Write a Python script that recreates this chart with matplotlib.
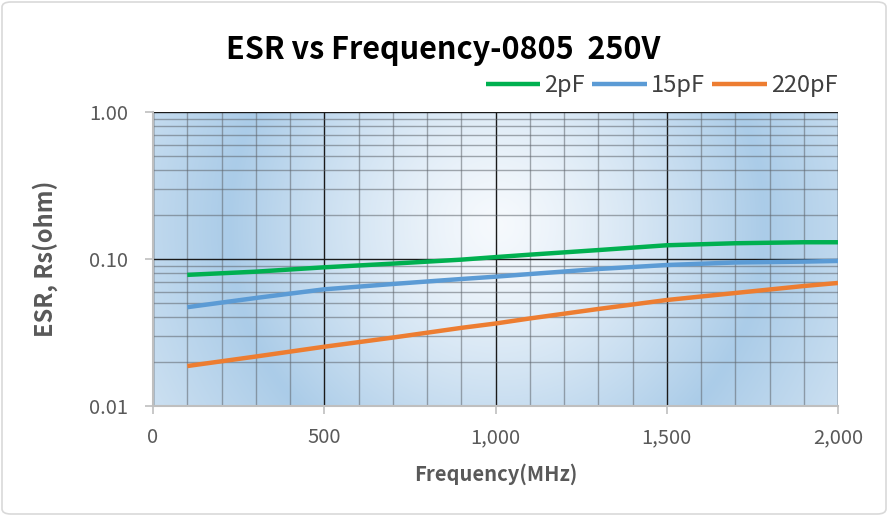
import numpy as np
import matplotlib
matplotlib.use("Agg")
import matplotlib.pyplot as plt
from matplotlib.ticker import FixedLocator, FuncFormatter
from matplotlib.patches import FancyBboxPatch

freq = [100, 300, 500, 700, 900, 1000, 1100, 1300, 1500, 1700, 1900, 2000]
esr_2pF = [0.078, 0.082, 0.0878, 0.093, 0.099, 0.103, 0.107, 0.115, 0.124, 0.128, 0.130, 0.130]
esr_15pF = [0.047, 0.0543, 0.0622, 0.0676, 0.0731, 0.0758, 0.079, 0.0855, 0.091, 0.0947, 0.096, 0.097]
esr_220pF = [0.0187, 0.0217, 0.0253, 0.0292, 0.034, 0.0364, 0.0394, 0.0457, 0.0526, 0.0587, 0.0655, 0.0687]
series_labels = ["2pF", "15pF", "220pF"]
series_colors = ["#00b050", "#5b9bd5", "#ed7d31"]
x_ticks = [0, 500, 1000, 1500, 2000]
y_ticks = [0.01, 0.1, 1.0]
title = "ESR vs Frequency-0805  250V"
xlabel = "Frequency(MHz)"
ylabel = "ESR, Rs(ohm)"

FONT = ["Noto Sans CJK SC", "DejaVu Sans"]
plt.rcParams['font.family'] = FONT

W, H = 888, 516
fig = plt.figure(figsize=(W / 100, H / 100), dpi=100)
L, R, T, B = 153, 838, 112, 406
ax = fig.add_axes([L / W, 1 - B / H, (R - L) / W, (B - T) / H])

ax.set_yscale('log')
ax.set_xlim(0, 2000)
ax.set_ylim(0.01, 1.0)

# background gradient (radial with ring)
pw, ph = R - L, B - T
xx, yy = np.meshgrid(np.arange(pw) + 0.5, np.arange(ph) + 0.5)
cx, cy = 497 - L, 225 - T
r = np.hypot(xx - cx, yy - cy)
c_center = np.array([0.965, 0.978, 0.992])
c_ring = np.array([0.67, 0.80, 0.91])
c_edge = np.array([0.82, 0.89, 0.95])
t1 = np.clip(r / 268.0, 0, 1)[..., None]
t2 = np.clip((r - 268.0) / 140.0, 0, 1)[..., None]
img = c_center + (c_ring - c_center) * t1 ** 1.3
img = img + (c_edge - c_ring) * t2
ax.imshow(img, extent=(0, 1, 0, 1), transform=ax.transAxes, aspect='auto',
          origin='upper', zorder=0, interpolation='bilinear')
ax.set_xlim(0, 2000)
ax.set_ylim(0.01, 1.0)

# grid
ax.xaxis.set_minor_locator(FixedLocator(np.arange(100, 2000, 100)))
minor_y = [m * 10.0 ** e for e in (-2, -1) for m in range(2, 10)]
ax.yaxis.set_minor_locator(FixedLocator(minor_y))
ax.grid(which='minor', color='#5f656c', linewidth=1.0, alpha=0.55, zorder=1)
ax.grid(which='major', color='#1a1a1a', linewidth=1.0, zorder=1)

# lines
for ys, lab, col in zip([esr_2pF, esr_15pF, esr_220pF], series_labels, series_colors):
    ax.plot(freq, ys, color=col, linewidth=3.2, label=lab, zorder=3,
            solid_capstyle='butt')

ax.set_xticks(x_ticks)
ax.set_yticks(y_ticks)
ax.xaxis.set_major_formatter(FuncFormatter(lambda v, p: f"{int(v):,}"))
ax.yaxis.set_major_formatter(FuncFormatter(lambda v, p: f"{v:.2f}"))
ax.tick_params(which='major', length=6, width=1.2, color='#bfbfbf',
               labelsize=14.5, labelcolor='#595959')
ax.tick_params(axis='x', pad=9)
ax.tick_params(axis='y', pad=12)
ax.tick_params(which='minor', length=0)

for s in ['top', 'right']:
    ax.spines[s].set_visible(False)
for s in ['left', 'bottom']:
    ax.spines[s].set_color('#bfbfbf')
    ax.spines[s].set_linewidth(1.5)
    ax.spines[s].set_zorder(2)

ax.set_xlabel(xlabel, fontsize=14.5, fontweight='bold', color='#595959', labelpad=11)
ax.set_ylabel(ylabel, fontsize=17, fontweight='bold', color='#595959', labelpad=22)

fig.text(443 / W, 1 - 50 / H, title, ha='center', va='center',
         fontsize=22, fontweight='bold', color='black')

leg = ax.legend(loc='lower right', bbox_to_anchor=(838 / W, 1 - 97 / H),
                bbox_transform=fig.transFigure, ncol=3, frameon=False,
                fontsize=17, handlelength=2.3, handletextpad=0.2,
                columnspacing=0.3, borderaxespad=0, borderpad=0)
for t in leg.get_texts():
    t.set_color('#404040')

border = FancyBboxPatch((2 / W, 2 / H), 1 - 4 / W, 1 - 4 / H,
                        boxstyle='round,pad=0,rounding_size=0.01',
                        transform=fig.transFigure, facecolor='none',
                        edgecolor='#d9d9d9', linewidth=1.2)
fig.patches.append(border)

fig.savefig('out.png', dpi=100)
